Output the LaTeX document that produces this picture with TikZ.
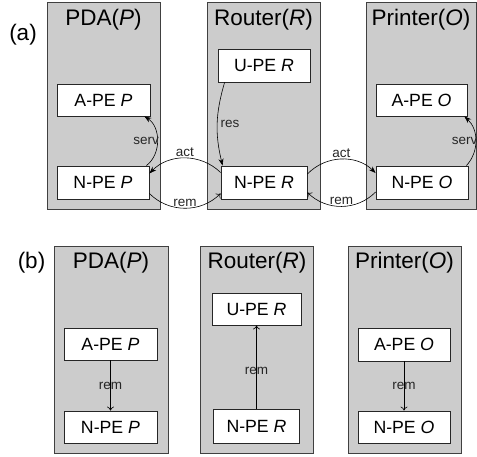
\documentclass[tikz,border=0pt]{standalone}
\usepackage{fontspec}
\setmainfont{Liberation Sans}
\usetikzlibrary{arrows.meta}
\begin{document}
\begin{tikzpicture}[x=1pt,y=-1pt,
  panel/.style={draw=black!75,fill=black!20,line width=0.8pt,inner sep=0pt,minimum width=113pt,minimum height=207pt},
  ptitle/.style={inner sep=0pt,font=\fontsize{22.5}{26}\selectfont},
  pe/.style={draw=black!85,fill=white,line width=0.8pt,inner sep=0pt,minimum height=32pt,font=\fontsize{17.7}{20}\selectfont},
  lbl/.style={inner sep=1pt,font=\fontsize{13.5}{15}\selectfont,text=black!85},
  conn/.style={line width=0.6pt,black},
  fa/.style={conn,-{Stealth[length=7pt,width=5pt]}},
  oa/.style={conn,-{To[length=4pt,width=7pt]}}]
\useasboundingbox (0,0) rectangle (477,456);
% ---------- (a)
\node[ptitle] (tagA) at (23,35) {(a)};
\node[panel] (pdaA) at (103.5,105.5) {};
\node[panel] (rtrA) at (263.5,105.5) {};
\node[panel,minimum width=110pt] (prtA) at (421,105.5) {};
\node[ptitle] (tpdaA) at (103.5,20) {PDA(\textit{P})};
\node[ptitle] (trtrA) at (263.5,20) {Router(\textit{R})};
\node[ptitle] (tprtA) at (421,20) {Printer(\textit{O})};
\node[pe,minimum width=93pt] (apeP) at (103.5,100) {A-PE \textit{P}};
\node[pe,minimum width=92pt,minimum height=33pt] (npeP) at (103,182.5) {N-PE \textit{P}};
\node[pe,minimum width=92pt,minimum height=33pt] (upeR) at (264,65.5) {U-PE \textit{R}};
\node[pe,minimum width=86pt,minimum height=33pt] (npeR) at (264,182.5) {N-PE \textit{R}};
\node[pe,minimum width=91pt] (apeO) at (421.5,100) {A-PE \textit{O}};
\node[pe,minimum width=92pt,minimum height=33pt] (npeO) at (422,182.5) {N-PE \textit{O}};
\draw[fa] ([xshift=-3pt]npeP.north east) to[bend right=55]
  node[lbl,midway,anchor=east,inner sep=0pt,xshift=2pt] {serv} ([xshift=-6pt]apeP.south east);
\draw[fa] ([yshift=10pt]npeR.west) to[bend right=45]
  node[lbl,midway,above] {act} ([yshift=9pt]npeP.east);
\draw[oa] ([yshift=-11pt]npeP.east) to[bend right=45]
  node[lbl,midway,above] {rem} ([yshift=-11pt]npeR.west);
\draw[fa] ([xshift=7pt]upeR.south west) to[bend right=15]
  node[lbl,midway,anchor=west,xshift=2pt] {res} ([xshift=2pt]npeR.north west);
\draw[fa] ([yshift=8.5pt]npeR.east) to[bend left=45]
  node[lbl,midway,above] {act} ([yshift=9.5pt]npeO.west);
\draw[oa] ([yshift=-9.5pt]npeO.west) to[bend left=45]
  node[lbl,midway,above] {rem} ([yshift=-10pt]npeR.east);
\draw[fa] ([xshift=-2pt]npeO.north east) to[bend right=45]
  node[lbl,midway,anchor=east,inner sep=0pt,xshift=2pt] {serv} ([xshift=-3pt]apeO.south east);
% ---------- (b)
\node[ptitle] (tagB) at (31.5,263) {(b)};
\node[panel,minimum width=114pt] (pdaB) at (111,349.5) {};
\node[panel] (rtrB) at (256.5,349.5) {};
\node[panel] (prtB) at (404.5,349.5) {};
\node[ptitle] (tpdaB) at (111,263) {PDA(\textit{P})};
\node[ptitle] (trtrB) at (257,263) {Router(\textit{R})};
\node[ptitle] (tprtB) at (404.5,263) {Printer(\textit{O})};
\node[pe,minimum width=93pt] (apePb) at (110.5,344) {A-PE \textit{P}};
\node[pe,minimum width=93pt] (npePb) at (110.5,427) {N-PE \textit{P}};
\node[pe,minimum width=89pt] (upeRb) at (256.5,309) {U-PE \textit{R}};
\node[pe,minimum width=86pt,minimum height=34pt] (npeRb) at (256.5,426) {N-PE \textit{R}};
\node[pe,minimum width=92pt,minimum height=33pt] (apeOb) at (404,344.5) {A-PE \textit{O}};
\node[pe,minimum width=92pt] (npeOb) at (404,427) {N-PE \textit{O}};
\draw[oa] (apePb) -- node[lbl,midway] {rem} (npePb);
\draw[oa] (npeRb) -- node[lbl,pos=0.45] {rem} (upeRb);
\draw[oa] (apeOb) -- node[lbl,midway] {rem} (npeOb);
\end{tikzpicture}
\end{document}
